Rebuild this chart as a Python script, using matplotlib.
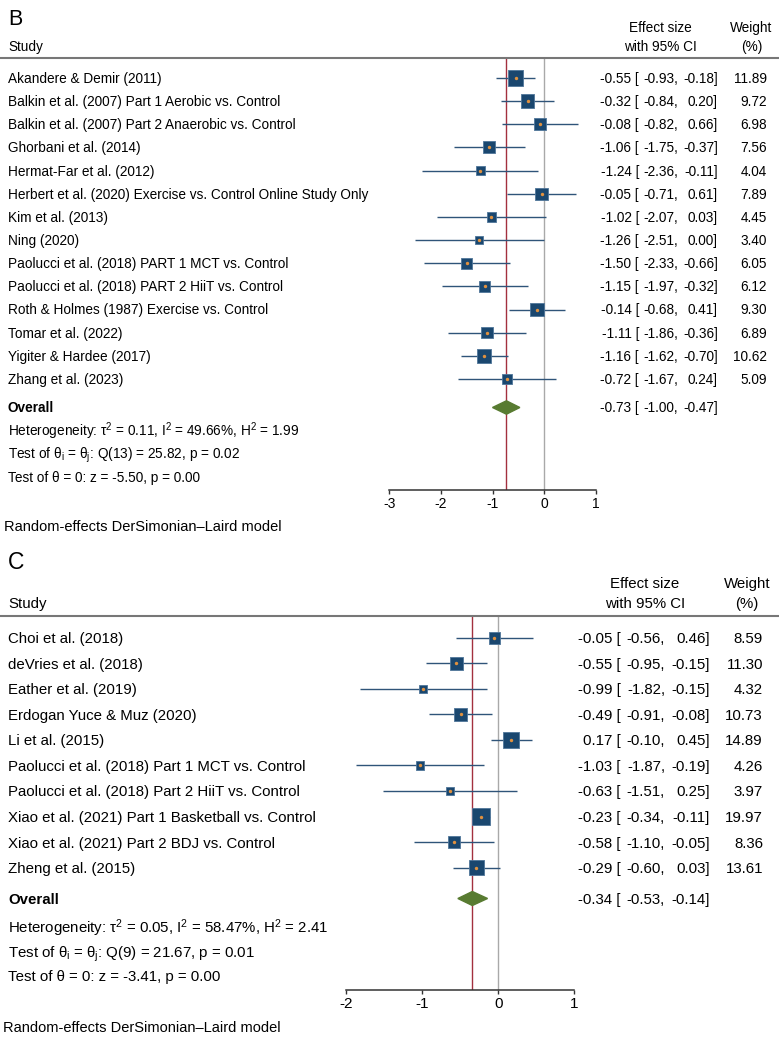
import numpy as np
import matplotlib
matplotlib.use("Agg")
import matplotlib.pyplot as plt
import matplotlib.transforms as mtransforms
from matplotlib.lines import Line2D
from matplotlib.patches import Polygon

plt.rcParams['font.family'] = ['Liberation Sans', 'DejaVu Sans']
plt.rcParams['mathtext.fontset'] = 'custom'
plt.rcParams['mathtext.rm'] = 'Liberation Sans'
plt.rcParams['mathtext.it'] = 'Liberation Sans'
plt.rcParams['axes.unicode_minus'] = False

# ---- panel B data ----
studies_b = ["Akandere & Demir (2011)",
             "Balkin et al. (2007) Part 1 Aerobic vs. Control",
             "Balkin et al. (2007) Part 2 Anaerobic vs. Control",
             "Ghorbani et al. (2014)",
             "Hermat-Far et al. (2012)",
             "Herbert et al. (2020) Exercise vs. Control Online Study Only",
             "Kim et al. (2013)",
             "Ning (2020)",
             "Paolucci et al. (2018) PART 1 MCT vs. Control",
             "Paolucci et al. (2018) PART 2 HiiT vs. Control",
             "Roth & Holmes (1987) Exercise vs. Control",
             "Tomar et al. (2022)",
             "Yigiter & Hardee (2017)",
             "Zhang et al. (2023)"]
est_b = [-0.55, -0.32, -0.08, -1.06, -1.24, -0.05, -1.02, -1.26, -1.50, -1.15, -0.14, -1.11, -1.16, -0.72]
lo_b = [-0.93, -0.84, -0.82, -1.75, -2.36, -0.71, -2.07, -2.51, -2.33, -1.97, -0.68, -1.86, -1.62, -1.67]
hi_b = [-0.18, 0.20, 0.66, -0.37, -0.11, 0.61, 0.03, 0.00, -0.66, -0.32, 0.41, -0.36, -0.70, 0.24]
w_b = [11.89, 9.72, 6.98, 7.56, 4.04, 7.89, 4.45, 3.40, 6.05, 6.12, 9.30, 6.89, 10.62, 5.09]
overall_b = [-0.73, -1.00, -0.47]
stats_b = ["Heterogeneity: τ$^2$ = 0.11, I$^2$ = 49.66%, H$^2$ = 1.99",
           "Test of θ$_\\mathrm{i}$ = θ$_\\mathrm{j}$: Q(13) = 25.82, p = 0.02",
           "Test of θ = 0: z = -5.50, p = 0.00"]
ticks_b = [-3, -2, -1, 0, 1]

# ---- panel C data ----
studies_c = ["Choi et al. (2018)",
             "deVries et al. (2018)",
             "Eather et al. (2019)",
             "Erdogan Yuce & Muz (2020)",
             "Li et al. (2015)",
             "Paolucci et al. (2018) Part 1 MCT vs. Control",
             "Paolucci et al. (2018) Part 2 HiiT vs. Control",
             "Xiao et al. (2021) Part 1 Basketball vs. Control",
             "Xiao et al. (2021) Part 2 BDJ vs. Control",
             "Zheng et al. (2015)"]
est_c = [-0.05, -0.55, -0.99, -0.49, 0.17, -1.03, -0.63, -0.23, -0.58, -0.29]
lo_c = [-0.56, -0.95, -1.82, -0.91, -0.10, -1.87, -1.51, -0.34, -1.10, -0.60]
hi_c = [0.46, -0.15, -0.15, -0.08, 0.45, -0.19, 0.25, -0.11, -0.05, 0.03]
w_c = [8.59, 11.30, 4.32, 10.73, 14.89, 4.26, 3.97, 19.97, 8.36, 13.61]
overall_c = [-0.34, -0.53, -0.14]
stats_c = ["Heterogeneity: τ$^2$ = 0.05, I$^2$ = 58.47%, H$^2$ = 2.41",
           "Test of θ$_\\mathrm{i}$ = θ$_\\mathrm{j}$: Q(9) = 21.67, p = 0.01",
           "Test of θ = 0: z = -3.41, p = 0.00"]
ticks_c = [-2, -1, 0, 1]

model_note = "Random-effects DerSimonian–Laird model"

W, H = 779, 1040
fig = plt.figure(figsize=(W / 100, H / 100), dpi=100)

NAVY = '#1a476f'
CI_COL = '#2f5479'
DOT = '#e0913f'
GREEN = '#587b31'
RED = '#a3303f'
GREY0 = '#a9a9a9'


def panel(label, studies, est, lo, hi, w, overall, stats, ticks, L):
    fs = L['fs']
    x0, x1 = L['xpix']
    ax = fig.add_axes([x0 / W, 1 - L['axis_y'] / H, (x1 - x0) / W, (L['axis_y'] - L['top']) / H])
    ax.set_xlim(ticks[0], ticks[-1])
    ax.set_ylim(L['axis_y'], L['top'])
    for s in ['top', 'left', 'right']:
        ax.spines[s].set_visible(False)
    ax.spines['bottom'].set_color('#333333')
    ax.spines['bottom'].set_linewidth(1.1)
    ax.set_yticks([])
    ax.set_xticks(ticks)
    ax.set_xticklabels([str(t) for t in ticks])
    ax.tick_params(axis='x', direction='out', length=3, width=1, colors='#333333',
                   labelcolor='black', labelsize=L['tick_fs'], pad=2.5)
    ax.patch.set_alpha(0)

    tr = mtransforms.blended_transform_factory(fig.transFigure, ax.transData)

    def txt(xp, yp, s, ha='left', **kw):
        size = kw.pop('size', fs)
        ax.text(xp / W, yp + 0.36 * size * 100 / 72, s, transform=tr, ha=ha, va='baseline',
                fontsize=size, clip_on=False, **kw)

    # reference lines
    ax.axvline(0, color=GREY0, lw=1.0, zorder=1)
    ax.axvline(overall[0], color=RED, lw=1.0, zorder=1)

    rows = L['row0'] + L['step'] * np.arange(len(studies))
    w = np.asarray(w)
    side_pt = L['k'] * np.sqrt(w) * 0.72
    ax.hlines(rows, lo, hi, color=CI_COL, lw=1.0, zorder=2)
    ax.scatter(est, rows, marker='s', s=side_pt ** 2, color=NAVY,
               edgecolors='#50769a', linewidths=0.6, zorder=3)
    ax.scatter(est, rows, marker='o', s=6, color=DOT, linewidths=0, zorder=4)

    # overall diamond
    oy = L['overall_y']
    h = L['dh']
    ax.add_patch(Polygon([[overall[1], oy], [overall[0], oy - h],
                          [overall[2], oy], [overall[0], oy + h]],
                         closed=True, color=GREEN, zorder=3))

    # left column
    txt(8, L['label_y'], label, size=L['label_fs'])
    txt(8, L['head2_y'], "Study")
    for r, s in zip(rows, studies):
        txt(8, r, s)
    txt(8, oy, "Overall", fontweight='bold')
    for yy, s in zip(L['stats_y'], stats):
        txt(8, yy, s)
    txt(L['note_x'], L['note_y'], model_note, size=L['note_fs'])

    # right columns
    ex, lx, ux, wx = L['cols']
    txt(L['es_c'], L['head1_y'], "Effect size", ha='center')
    txt(L['es_c'], L['head2_y'], "with 95% CI", ha='center')
    txt(L['w_c'], L['head1_y'], "Weight", ha='center')
    txt(L['w_c'], L['head2_y'], "(%)", ha='center')
    for r, e, a, b, ww in zip(list(rows) + [oy], list(est) + [overall[0]],
                              list(lo) + [overall[1]], list(hi) + [overall[2]],
                              list(w) + [None]):
        txt(ex, r, f"{e:.2f} [", ha='right')
        txt(lx, r, f"{a:.2f},", ha='right')
        txt(ux, r, f"{b:.2f}]", ha='right')
        if ww is not None:
            txt(wx, r, f"{ww:.2f}", ha='right')

    fig.add_artist(Line2D([0, 1], [1 - L['top'] / H] * 2, transform=fig.transFigure,
                          color='#777777', lw=1.5))
    return ax


layout_b = dict(fs=9.85, tick_fs=10.0, label_fs=15.5, xpix=(389.3, 595.7), top=57.5, axis_y=489.5,
                row0=78, step=23.15, overall_y=407.5, dh=6.7, k=4.4,
                stats_y=[431, 454, 477], label_y=17, head1_y=27, head2_y=46,
                note_x=4, note_y=526, note_fs=10.5,
                cols=(639, 678, 718, 767), es_c=660, w_c=751.5)

layout_c = dict(fs=10.85, tick_fs=11.0, label_fs=16.5, xpix=(346, 574.3), top=616, axis_y=989.5,
                row0=637.7, step=25.55, overall_y=898.5, dh=7.0, k=4.0,
                stats_y=[928, 952, 976], label_y=561, head1_y=583, head2_y=603,
                note_x=3, note_y=1027, note_fs=10.5,
                cols=(621, 665, 710, 763), es_c=645, w_c=747)

panel("B", studies_b, est_b, lo_b, hi_b, w_b, overall_b, stats_b, ticks_b, layout_b)
panel("C", studies_c, est_c, lo_c, hi_c, w_c, overall_c, stats_c, ticks_c, layout_c)

fig.savefig("out.png", dpi=100)
